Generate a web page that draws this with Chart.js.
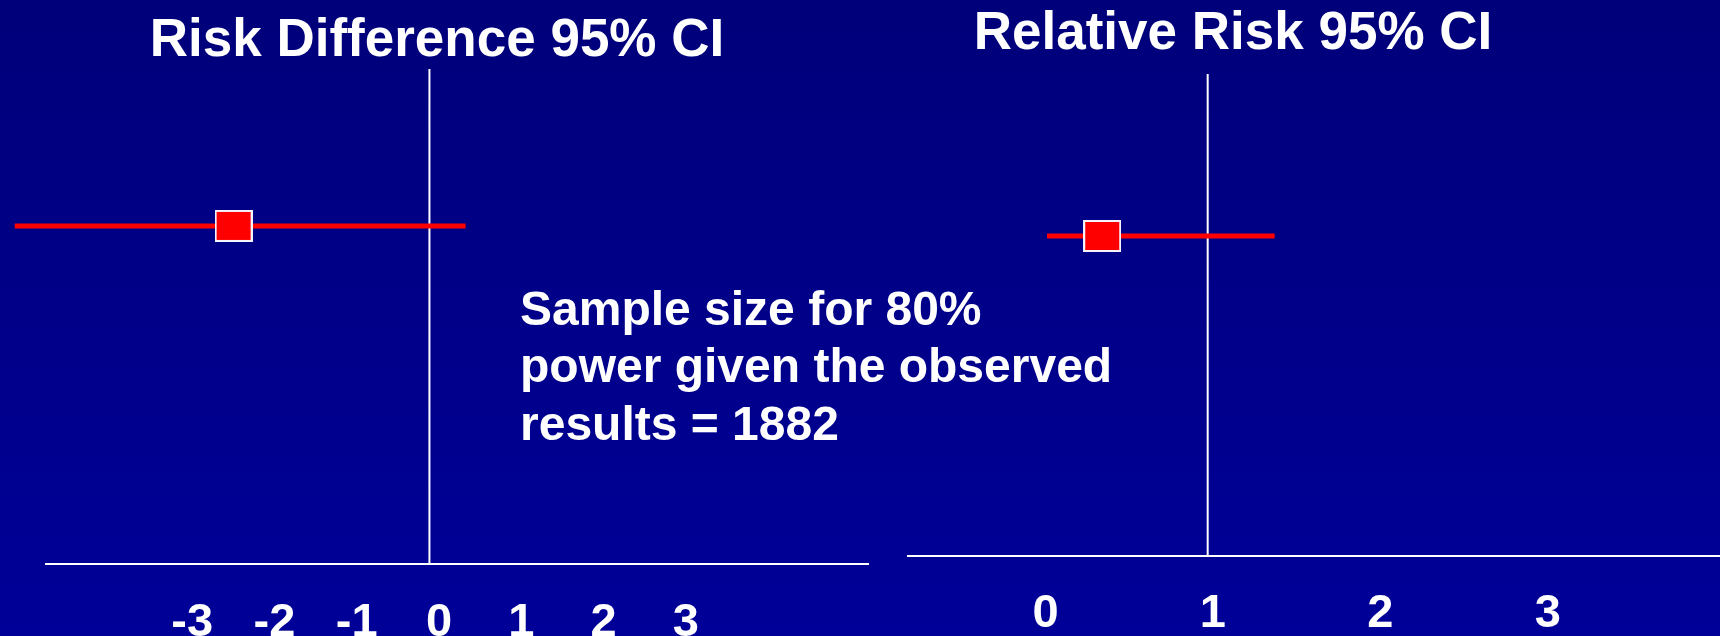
<!DOCTYPE html>
<html>
<head>
<meta charset="utf-8">
<script src="https://cdn.jsdelivr.net/npm/chart.js@4/dist/chart.umd.min.js"></script>
<style>
  html, body { margin: 0; padding: 0; }
  body {
    width: 1720px; height: 636px; overflow: hidden; position: relative;
    background: linear-gradient(to bottom, #00007a 0%, #000089 50%, #000098 100%);
    font-family: "Liberation Sans", Arial, sans-serif;
  }
  .panel { position: absolute; top: 0; height: 636px; }
  #rdPanel { left: 0; width: 874px; }
  #rrPanel { left: 746px; width: 974px; }
  #note {
    position: absolute; left: 520px; top: 279.5px;
    color: #ffffff; font-weight: bold; font-size: 48px; line-height: 57.5px;
    white-space: nowrap;
  }
</style>
</head>
<body>
<div class="panel" id="rdPanel"><canvas id="rdChart" width="874" height="636"></canvas></div>
<div class="panel" id="rrPanel"><canvas id="rrChart" width="974" height="636"></canvas></div>
<div id="note">Sample size for 80%<br>power given the observed<br>results = 1882</div>

<script>
// Risk difference: point estimate and 95% confidence limits
const rdEstimate = [-2.38];
const rdLimits = [-5.04, 0.44];
const rdNull = [0];
const rdTicks = [-3, -2, -1, 0, 1, 2, 3];
const rdAxisRange = [-4.66, 5.33];

// Relative risk: point estimate and 95% confidence limits
const rrEstimate = [0.37];
const rrLimits = [0.04, 1.40];
const rrNull = [1];
const rrTicks = [0, 1, 2, 3];
const rrAxisRange = [-0.79, 4.06];

const FONT = '"Liberation Sans", Arial, sans-serif';
const RED = '#ff0000';
const WHITE = '#ffffff';

// Square marker with a thin white rim
function makeMarker() {
  const c = document.createElement('canvas');
  c.width = 38; c.height = 32;
  const g = c.getContext('2d');
  g.fillStyle = '#f4f4ff';
  g.fillRect(0, 0, 38, 32);
  g.fillStyle = RED;
  g.fillRect(2, 2, 34, 28);
  return c;
}
const marker = makeMarker();

function buildChart(id, cfg) {
  const row = 1; // the single estimate is drawn on one row
  return new Chart(document.getElementById(id), {
    type: 'line',
    data: {
      datasets: [
        {
          label: 'estimate',
          data: cfg.estimate.map(v => ({ x: v, y: row })),
          showLine: false,
          pointStyle: marker,
          pointRadius: 19,
          order: 0
        },
        {
          label: '95% CI',
          data: cfg.limits.map(v => ({ x: v, y: row })),
          borderColor: RED,
          borderWidth: 5,
          borderCapStyle: 'butt',
          pointRadius: 0,
          clip: false,
          order: 1
        },
        {
          label: 'no effect',
          data: [{ x: cfg.nullValue[0], y: 0 }, { x: cfg.nullValue[0], y: cfg.yMax }],
          borderColor: WHITE,
          borderWidth: 2,
          pointRadius: 0,
          order: 2
        }
      ]
    },
    options: {
      responsive: false,
      animation: false,
      events: [],
      layout: { padding: cfg.sidePadding, autoPadding: false },
      plugins: {
        legend: { display: false },
        tooltip: { enabled: false },
        title: {
          display: true,
          text: cfg.title,
          color: WHITE,
          font: { family: FONT, size: 53, weight: 'bold', lineHeight: 1 },
          padding: cfg.titlePadding
        }
      },
      scales: {
        x: {
          type: 'linear',
          min: cfg.axisRange[0],
          max: cfg.axisRange[1],
          grid: { display: false },
          border: { display: true, color: WHITE, width: 2 },
          ticks: {
            color: WHITE,
            font: { family: FONT, size: 47, weight: 'bold' },
            padding: cfg.tickPadding,
            labelOffset: cfg.labelOffset,
            autoSkip: false,
            maxRotation: 0
          },
          afterBuildTicks: s => { s.ticks = cfg.ticks.map(v => ({ value: v })); },
          afterFit: s => { s.height = cfg.axisHeight; }
        },
        y: {
          type: 'linear',
          min: 0,
          max: cfg.yMax,
          grid: { display: false },
          border: { display: false },
          ticks: { display: false },
          afterFit: s => { s.width = cfg.leftGap; }
        }
      }
    }
  });
}

buildChart('rdChart', {
  title: 'Risk Difference 95% CI',
  estimate: rdEstimate, limits: rdLimits, nullValue: rdNull,
  ticks: rdTicks, axisRange: rdAxisRange,
  sidePadding: { left: 6, right: 6, top: 0, bottom: 0 },
  titlePadding: { top: 15, bottom: 1 },
  axisHeight: 72, leftGap: 40, labelOffset: 9.6, tickPadding: 23, yMax: 1.464
});

buildChart('rrChart', {
  title: 'Relative Risk 95% CI',
  estimate: rrEstimate, limits: rrLimits, nullValue: rrNull,
  ticks: rrTicks, axisRange: rrAxisRange,
  sidePadding: { left: 0, right: 0, top: 0, bottom: 0 },
  titlePadding: { top: 7.5, bottom: 13.5 },
  axisHeight: 80, leftGap: 162, labelOffset: 5.2, tickPadding: 21.5, yMax: 1.506
});
</script>
</body>
</html>
